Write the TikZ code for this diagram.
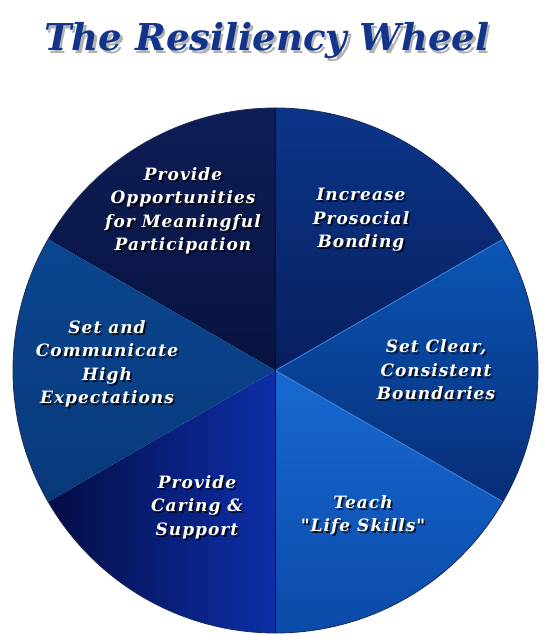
\documentclass[tikz,border=0pt]{standalone}
\usepackage{fontspec}
\newfontfamily\wheelfont[LetterSpace=6,Ligatures=TeXOff]{DejaVu Serif}
\newfontfamily\titlefont{DejaVu Serif}
\definecolor{titleblue}{HTML}{12348A}
\definecolor{oppTop}{HTML}{0E1D56}
\definecolor{oppBot}{HTML}{08133F}
\definecolor{bondTop}{HTML}{0B3589}
\definecolor{bondBot}{HTML}{081F5E}
\definecolor{bndTop}{HTML}{0B56B6}
\definecolor{bndBot}{HTML}{072D76}
\definecolor{lifeTop}{HTML}{1769D2}
\definecolor{lifeBot}{HTML}{0B4AA8}
\definecolor{careL}{HTML}{040C45}
\definecolor{careR}{HTML}{0D2FA9}
\definecolor{expTop}{HTML}{0B4691}
\definecolor{expBot}{HTML}{08397B}
\definecolor{rimdark}{HTML}{1A2A55}
\definecolor{seamlight}{HTML}{3D80DA}
\definecolor{seamdark}{HTML}{050A30}
\newcommand{\wheellabel}[3]{%
  \node[lblsh,xshift=1.8pt,yshift=-2pt] (#1-sh) at (#2) {#3};
  \node[lbl] (#1) at (#2) {#3};}

\begin{document}
\begin{tikzpicture}[x=1pt,y=1pt,
    lbl/.style={text=white,align=center,inner sep=0pt,
                font=\wheelfont\fontsize{17}{23.5}\selectfont\bfseries\itshape},
    lblsh/.style={lbl,text=black,opacity=0.75},
    headline/.style={inner sep=0pt,font=\titlefont\fontsize{37}{40}\selectfont\bfseries\itshape}]
  \useasboundingbox (0,0) rectangle (553,644);
  \def\rr{262.5}
  \coordinate (hub) at (275.5,273.5);
  % title
  \node[headline,text=gray!60,xshift=2.5pt,yshift=-2.5pt] (title-sh) at (267,603) {The Resiliency Wheel};
  \node[headline,text=titleblue] (title) at (267,603) {The Resiliency Wheel};
  % slices
  \shade[top color=oppTop,bottom color=oppBot] (hub) -- ++(90:\rr) arc[start angle=90,end angle=150,radius=\rr] -- cycle;
  \shade[top color=bondTop,bottom color=bondBot] (hub) -- ++(30:\rr) arc[start angle=30,end angle=90,radius=\rr] -- cycle;
  \shade[top color=bndTop,bottom color=bndBot] (hub) -- ++(-30:\rr) arc[start angle=-30,end angle=30,radius=\rr] -- cycle;
  \shade[top color=lifeTop,bottom color=lifeBot] (hub) -- ++(-90:\rr) arc[start angle=-90,end angle=-30,radius=\rr] -- cycle;
  \shade[left color=careL,right color=careR] (hub) -- ++(-150:\rr) arc[start angle=-150,end angle=-90,radius=\rr] -- cycle;
  \shade[top color=expTop,bottom color=expBot] (hub) -- ++(150:\rr) arc[start angle=150,end angle=210,radius=\rr] -- cycle;
  % seams and rim
  \draw[seamlight,line width=0.9pt] (hub) -- ++(30:\rr) (hub) -- ++(-30:\rr);
  \draw[seamdark,line width=1pt] (hub) -- ++(90:\rr) (hub) -- ++(-90:\rr);
  \draw[rimdark,line width=0.8pt] (hub) circle[radius=\rr];
  % labels
  \wheellabel{opp}{183,433}{Provide\\Opportunities\\for Meaningful\\Participation}
  \wheellabel{bond}{361,424}{Increase\\Prosocial\\Bonding}
  \wheellabel{bound}{436,274}{Set Clear,\\Consistent\\Boundaries}
  \wheellabel{expect}{107,280}{Set and\\Communicate\\High\\Expectations}
  \wheellabel{care}{197,137}{Provide\\Caring \&\\Support}
  \wheellabel{life}{363,129}{Teach\\"Life Skills"}
\end{tikzpicture}
\end{document}
